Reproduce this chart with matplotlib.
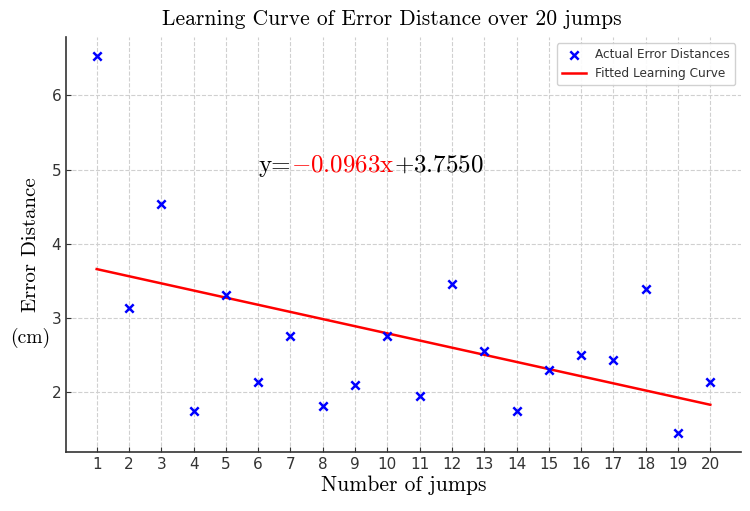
import matplotlib
matplotlib.use("Agg")
import matplotlib.pyplot as plt
import numpy as np

jumps = list(range(1, 21))
error_distances = [6.53, 3.13, 4.54, 1.75, 3.31, 2.13, 2.75, 1.81, 2.09, 2.75,
                   1.95, 3.46, 2.56, 1.75, 2.30, 2.50, 2.43, 3.39, 1.45, 2.13]
slope = -0.0963
intercept = 3.7550

serif = "cmr10"

fig, ax = plt.subplots(figsize=(7.5, 5.11), dpi=100)
fig.subplots_adjust(left=0.088, right=0.988, top=0.927, bottom=0.116)

x = np.array(jumps)
ax.scatter(x, error_distances, marker="x", color="blue", s=36, linewidths=1.8,
           label="Actual Error Distances", zorder=3)
ax.plot(x, slope * x + intercept, color="red", linewidth=1.8,
        label="Fitted Learning Curve", zorder=2)

ax.set_xticks(jumps)
ax.tick_params(direction="in", labelsize=11, labelcolor="#333333", color="#333333")
ax.grid(True, linestyle="--", color="#d0d0d0", linewidth=0.8)
ax.set_axisbelow(True)
for side in ("top", "right"):
    ax.spines[side].set_visible(False)
for side in ("left", "bottom"):
    ax.spines[side].set_color("#333333")
    ax.spines[side].set_linewidth(1.2)

ax.set_title("Learning Curve of Error Distance over 20 jumps",
             fontfamily=serif, fontsize=15.5, pad=9, x=0.482)
ax.set_xlabel("Number of jumps", fontfamily=serif, fontsize=15.5, labelpad=3)
ax.set_ylabel("Error Distance", fontfamily=serif, fontsize=15)
ax.yaxis.set_label_coords(-0.039, 0.5)
fig.text(30 / 750, 1 - 338 / 511, "(cm)", fontfamily=serif, fontsize=14,
         ha="center", va="center")

# equation, three pieces
fig.canvas.draw()
renderer = fig.canvas.get_renderer()
t1 = ax.text(6.0, 4.97, "y=", fontfamily=serif, fontsize=18, va="baseline")
bb = t1.get_window_extent(renderer)
x0 = ax.transData.inverted().transform((bb.x1, 0))[0]
t2 = ax.text(x0, 4.97, r"$\mathrm{-0.0963x}$", fontsize=18, va="baseline",
             color="red", math_fontfamily="cm")
bb = t2.get_window_extent(renderer)
x1 = ax.transData.inverted().transform((bb.x1, 0))[0]
ax.text(x1, 4.97, r"$\mathrm{+3.7550}$", fontsize=18, va="baseline",
        math_fontfamily="cm")

leg = ax.legend(loc="upper right", fontsize=8.7, framealpha=0.9,
                edgecolor="#cccccc")
for t in leg.get_texts():
    t.set_color("#333333")

fig.savefig("out.png", dpi=100)
